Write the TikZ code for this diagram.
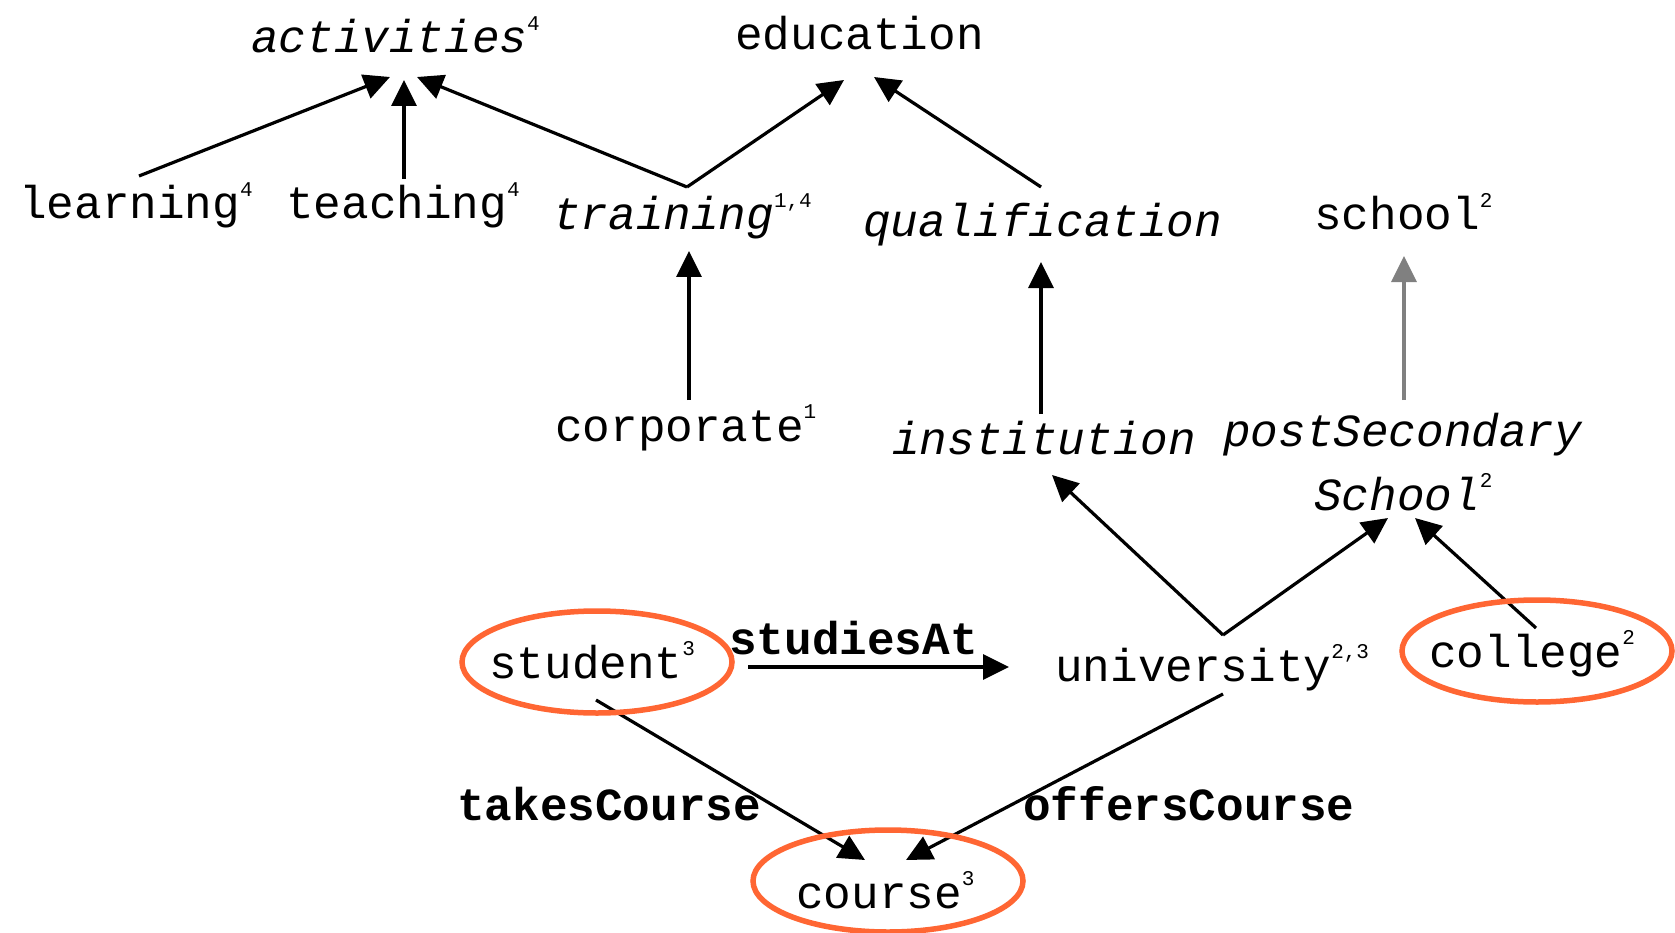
\documentclass[tikz,border=0pt]{standalone}
\usepackage{fontspec}
\setmainfont{Liberation Mono}
\usetikzlibrary{arrows.meta}
\definecolor{ringc}{HTML}{FF6633}
\newcommand{\sps}[1]{\raisebox{0.48em}{\fontsize{21}{21}\selectfont\upshape\mdseries #1}}
\begin{document}
\begin{tikzpicture}[x=1pt,y=-1pt,
  lbl/.style={anchor=base west, inner sep=0pt, font=\fontsize{46}{50}\selectfont},
  it/.style={lbl, font=\fontsize{46}{50}\selectfont\itshape},
  bd/.style={lbl, font=\fontsize{46}{50}\selectfont\bfseries},
  arr/.style={line width=3.2pt, -{Triangle[length=26pt,width=25pt]}},
  ring/.style={draw=ringc, line width=5.5pt}]
\useasboundingbox[fill=white] (0,0) rectangle (1675,933);
% nodes
\node[it]  (act)     at (251,53)  {activities\sps{4}};
\node[lbl] (edu)     at (735,50)  {education};
\node[lbl] (learn)   at (19,219)  {learning\sps{4}};
\node[lbl] (teach)   at (286,219) {teaching\sps{4}};
\node[it]  (train)   at (553,230) {training\sps{1,4}};
\node[it]  (qual)    at (863,237) {qualification};
\node[lbl] (school)  at (1314,230) {school\sps{2}};
\node[lbl] (corp)    at (555,441) {corporate\sps{1}};
\node[it]  (inst)    at (892,454) {institution};
\node[it]  (post)    at (1223,446) {postSecondary};
\node[it]  (post2)   at (1314,510) {School\sps{2}};
\node[lbl] (student) at (489,678) {student\sps{3}};
\node[bd]  (studies) at (729,654) {studiesAt};
\node[lbl] (univ)    at (1055,681) {university\sps{2,3}};
\node[lbl] (college) at (1429,667) {college\sps{2}};
\node[bd]  (takes)   at (457,820) {takesCourse};
\node[bd]  (offers)  at (1023,820) {offersCourse};
\node[lbl] (course)  at (796,908) {course\sps{3}};
% connectors
\draw[arr] ([shift={(120,-43)}]learn.base west) -- ([shift={(139,24)}]act.base west);
\draw[arr] ([shift={(118,-40)}]teach.base west) -- ([shift={(153,27)}]act.base west);
\draw[arr] ([shift={(134,-43)}]train.base west) -- ([shift={(166,24)}]act.base west);
\draw[arr] ([shift={(134,-43)}]train.base west) -- ([shift={(109,30)}]edu.base west);
\draw[arr] ([shift={(178,-50)}]qual.base west) -- ([shift={(139,27)}]edu.base west);
\draw[arr] ([shift={(134,-41)}]corp.base west) -- ([shift={(136,21)}]train.base west);
\draw[arr] ([shift={(149,-40)}]inst.base west) -- ([shift={(178,25)}]qual.base west);
\draw[arr, draw=gray] ([shift={(181,-46)}]post.base west) -- ([shift={(90,26)}]school.base west);
\draw[arr] ([shift={(168,-46)}]univ.base west) -- ([shift={(160,21)}]inst.base west);
\draw[arr] ([shift={(168,-46)}]univ.base west) -- ([shift={(74,8)}]post2.base west);
\draw[arr] ([shift={(107,-39)}]college.base west) -- ([shift={(101,8)}]post2.base west);
\draw[arr] ([shift={(107,22)}]student.base west) -- ([shift={(69,-48)}]course.base west);
\draw[arr] ([shift={(168,13)}]univ.base west) -- ([shift={(110,-48)}]course.base west);
\draw[arr] ([shift={(259,-11)}]student.base west) -- ([shift={(-46,-14)}]univ.base west);
% rings
\draw[ring] ([shift={(108,-16)}]student.base west) ellipse [x radius=135pt, y radius=51pt];
\draw[ring] ([shift={(108,-16)}]college.base west) ellipse [x radius=135pt, y radius=51pt];
\draw[ring] ([shift={(92,-27)}]course.base west) ellipse [x radius=135pt, y radius=51pt];
\end{tikzpicture}
\end{document}
